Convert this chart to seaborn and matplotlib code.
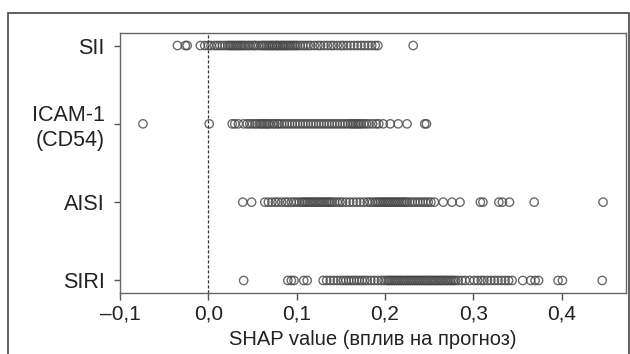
import matplotlib
matplotlib.use("Agg")
import matplotlib.pyplot as plt
import seaborn as sns
import pandas as pd
from matplotlib.patches import Rectangle

features = ["SII", "ICAM-1\n(CD54)", "AISI", "SIRI"]

sii = [-0.035, -0.026, -0.024, -0.009, -0.004, 0.000, 0.003, 0.007, 0.010, 0.013,
       0.016, 0.019, 0.022, 0.024, 0.026, 0.028, 0.030, 0.032, 0.034, 0.036,
       0.038, 0.040, 0.042, 0.045, 0.047, 0.050, 0.052, 0.054, 0.057, 0.060,
       0.062, 0.064, 0.066, 0.068, 0.070, 0.072, 0.073, 0.075, 0.077, 0.078,
       0.080, 0.082, 0.084, 0.085, 0.087, 0.089, 0.091, 0.093, 0.095, 0.097,
       0.099, 0.101, 0.104, 0.107, 0.110, 0.113, 0.116, 0.120, 0.124, 0.127,
       0.131, 0.135, 0.139, 0.142, 0.146, 0.150, 0.153, 0.157, 0.161, 0.165,
       0.169, 0.173, 0.177, 0.181, 0.185, 0.189, 0.192, 0.232]

icam = [-0.074, 0.001, 0.027, 0.030, 0.034, 0.040, 0.044, 0.047, 0.050, 0.053,
        0.055, 0.058, 0.060, 0.062, 0.064, 0.066, 0.068, 0.070, 0.073, 0.075,
        0.078, 0.080, 0.083, 0.086, 0.089, 0.092, 0.095, 0.098, 0.101, 0.104,
        0.107, 0.110, 0.113, 0.116, 0.119, 0.122, 0.125, 0.128, 0.131, 0.134,
        0.137, 0.140, 0.143, 0.146, 0.149, 0.152, 0.155, 0.158, 0.161, 0.163,
        0.165, 0.167, 0.169, 0.171, 0.173, 0.176, 0.179, 0.182, 0.186, 0.190,
        0.193, 0.198, 0.206, 0.215, 0.225, 0.245, 0.247]

aisi = [0.039, 0.049, 0.064, 0.068, 0.072, 0.076, 0.079, 0.083, 0.087, 0.090,
        0.094, 0.097, 0.100, 0.103, 0.106, 0.108, 0.110, 0.112, 0.114, 0.116,
        0.118, 0.120, 0.122, 0.124, 0.126, 0.128, 0.130, 0.132, 0.134, 0.136,
        0.138, 0.140, 0.143, 0.146, 0.149, 0.152, 0.156, 0.160, 0.164, 0.168,
        0.172, 0.176, 0.180, 0.183, 0.186, 0.189, 0.191, 0.193, 0.195, 0.197,
        0.199, 0.201, 0.203, 0.205, 0.207, 0.209, 0.211, 0.213, 0.215, 0.217,
        0.219, 0.221, 0.223, 0.225, 0.228, 0.231, 0.234, 0.237, 0.240, 0.243,
        0.246, 0.249, 0.252, 0.256, 0.266, 0.276, 0.285, 0.308, 0.311, 0.329,
        0.333, 0.341, 0.369, 0.447]

siri = [0.040, 0.090, 0.094, 0.097, 0.108, 0.112, 0.130, 0.134, 0.138, 0.142,
        0.146, 0.150, 0.153, 0.156, 0.159, 0.162, 0.165, 0.168, 0.171, 0.174,
        0.177, 0.180, 0.184, 0.188, 0.192, 0.196, 0.199, 0.202, 0.204, 0.206,
        0.208, 0.210, 0.212, 0.214, 0.216, 0.218, 0.220, 0.222, 0.224, 0.226,
        0.228, 0.230, 0.232, 0.234, 0.236, 0.238, 0.240, 0.242, 0.244, 0.246,
        0.248, 0.250, 0.252, 0.254, 0.256, 0.258, 0.260, 0.262, 0.264, 0.266,
        0.268, 0.270, 0.272, 0.274, 0.276, 0.278, 0.280, 0.283, 0.287, 0.291,
        0.296, 0.301, 0.305, 0.309, 0.312, 0.316, 0.320, 0.324, 0.328, 0.332,
        0.336, 0.340, 0.344, 0.356, 0.365, 0.370, 0.374, 0.396, 0.401, 0.446]

x_ticks = [-0.1, 0.0, 0.1, 0.2, 0.3, 0.4]
x_tick_labels = ["\u20130,1", "0,0", "0,1", "0,2", "0,3", "0,4"]
x_label = "SHAP value (вплив на прогноз)"

rows = []
for name, vals in zip(features, [sii, icam, aisi, siri]):
    for v in vals:
        rows.append({"feature": name, "shap": v})
df = pd.DataFrame(rows)

sns.set_theme(style="white")
plt.rcParams["font.family"] = ["Liberation Sans", "DejaVu Sans"]

fig = plt.figure(figsize=(6.3, 3.54), dpi=100)
ax = fig.add_axes([0.1905, 0.1723, 0.8032, 0.7345])

sns.stripplot(data=df, x="shap", y="feature", order=features, jitter=False,
              size=6.0, ax=ax, color="#555555", linewidth=1.0)
for coll in ax.collections:
    coll.set_facecolor("none")
    coll.set_edgecolor((0.28, 0.28, 0.28, 0.8))
    coll.set_linewidth(1.0)

ax.axvline(0, color="#333333", linestyle=(0, (2.5, 1.5)), linewidth=0.9, zorder=0)

ax.set_xlim(-0.1, 0.473)
ax.set_ylim(3.16, -0.16)
ax.set_xticks(x_ticks)
ax.set_xticklabels(x_tick_labels)
ax.set_xlabel(x_label, fontsize=14.5, color="#222222", labelpad=5)
ax.set_ylabel("")
ax.tick_params(axis="x", labelsize=15, colors="#555555", labelcolor="#222222",
               direction="out", length=5, width=1, bottom=True, pad=3)
ax.tick_params(axis="y", labelsize=15.5, colors="#555555", labelcolor="#222222",
               direction="out", length=4, width=1, left=True, pad=7)
for s in ax.spines.values():
    s.set_color("#666666")
    s.set_linewidth(1.0)

fig.patches.append(Rectangle((8 / 630, -0.05), 621 / 630 - 0.0005, 0.963 + 0.05,
                             transform=fig.transFigure, fill=False,
                             edgecolor="#444444", linewidth=1.2, clip_on=False))

fig.savefig("out.png", dpi=100)
